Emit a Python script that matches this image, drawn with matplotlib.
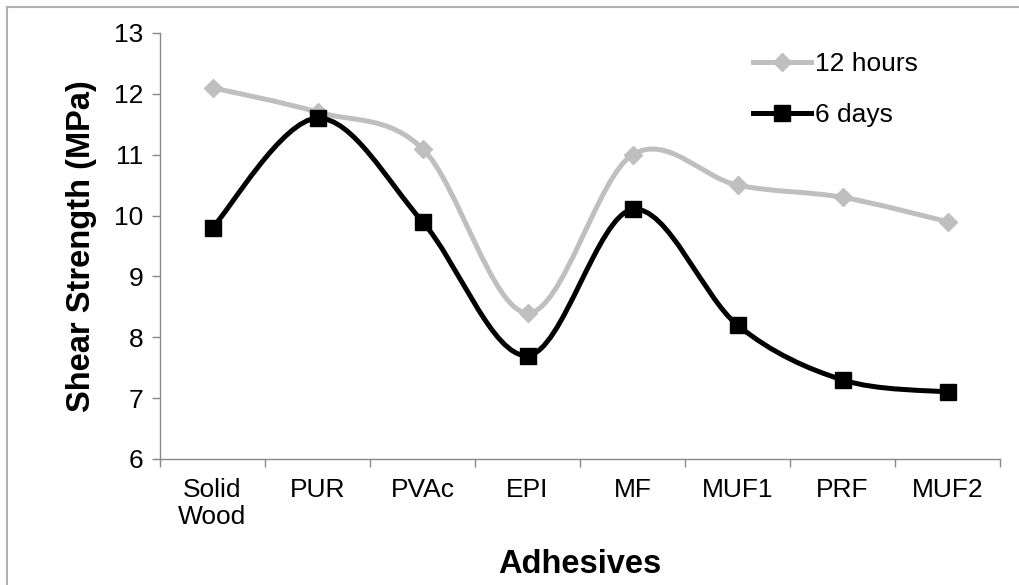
import matplotlib
matplotlib.use('Agg')
import matplotlib.pyplot as plt
from matplotlib.path import Path
from matplotlib.patches import PathPatch
from matplotlib.lines import Line2D
import numpy as np

plt.rcParams['font.family'] = ['Liberation Sans', 'DejaVu Sans']

adhesives = ['Solid\nWood', 'PUR', 'PVAc', 'EPI', 'MF', 'MUF1', 'PRF', 'MUF2']
hours12 = [12.1, 11.7, 11.1, 8.4, 11.0, 10.5, 10.3, 9.9]
days6 = [9.8, 11.6, 9.9, 7.7, 10.1, 8.2, 7.3, 7.1]


def smooth_path(xs, ys):
    # excel-like smoothed line: cubic bezier segments between the points
    pts = np.column_stack([xs, ys]).astype(float)
    n = len(pts)
    verts = [pts[0]]
    codes = [Path.MOVETO]
    for i in range(n - 1):
        p0 = pts[max(i - 1, 0)]
        p1 = pts[i]
        p2 = pts[i + 1]
        p3 = pts[min(i + 2, n - 1)]
        c1 = p1 + (p2 - p0) / 6.0
        c2 = p2 - (p3 - p1) / 6.0
        verts += [c1, c2, p2]
        codes += [Path.CURVE4] * 3
    return Path(verts, codes)


fig = plt.figure(figsize=(10.19, 5.85), dpi=100)
ax = fig.add_axes([160 / 1019, 126 / 585, 840 / 1019, 426 / 585])

x = np.arange(len(adhesives))
gray = '#BFBFBF'

ax.add_patch(PathPatch(smooth_path(x, hours12), fill=False, edgecolor=gray, lw=3.6, zorder=2))
ax.plot(x, hours12, ls='none', marker='D', ms=9, color=gray, zorder=3)
ax.add_patch(PathPatch(smooth_path(x, days6), fill=False, edgecolor='black', lw=3.6, zorder=4))
ax.plot(x, days6, ls='none', marker='s', ms=11, color='black', zorder=5)

ax.set_xlim(-0.5, len(adhesives) - 0.5)
ax.set_ylim(6, 13)
ax.set_yticks(range(6, 14))
ax.set_xticks(x)
ax.set_xticklabels(adhesives, linespacing=1.15)
ax.set_xticks(np.arange(-0.5, len(adhesives)), minor=True)
ax.tick_params(axis='x', which='major', length=0, labelsize=19, pad=14)
ax.tick_params(axis='x', which='minor', length=6, color='#888888', width=1)
ax.tick_params(axis='y', length=6, color='#888888', width=1, labelsize=19, pad=6)

for s in ['top', 'right']:
    ax.spines[s].set_visible(False)
for s in ['left', 'bottom']:
    ax.spines[s].set_color('#888888')
    ax.spines[s].set_linewidth(1)

ax.set_xlabel('Adhesives', fontsize=23.5, fontweight='bold', labelpad=14)
ax.set_ylabel('Shear Strength (MPa)', fontsize=23.5, fontweight='bold', labelpad=12)

handles = [Line2D([], [], color=gray, lw=3.6, marker='D', ms=9),
           Line2D([], [], color='black', lw=3.6, marker='s', ms=11)]
ax.legend(handles, ['12 hours', '6 days'], loc='upper left', bbox_to_anchor=(0.678, 1.01),
          frameon=False, fontsize=19, handlelength=2.2, handletextpad=0.15, labelspacing=1.0)

# light frame around the chart (top and left edges)
fig.add_artist(Line2D([7 / 1019, 1], [1 - 7 / 585, 1 - 7 / 585], color='#B0B0B0', lw=1.5,
                      transform=fig.transFigure))
fig.add_artist(Line2D([7 / 1019, 7 / 1019], [0, 1 - 7 / 585], color='#B0B0B0', lw=1.5,
                      transform=fig.transFigure))

fig.savefig('out.png', dpi=100)
